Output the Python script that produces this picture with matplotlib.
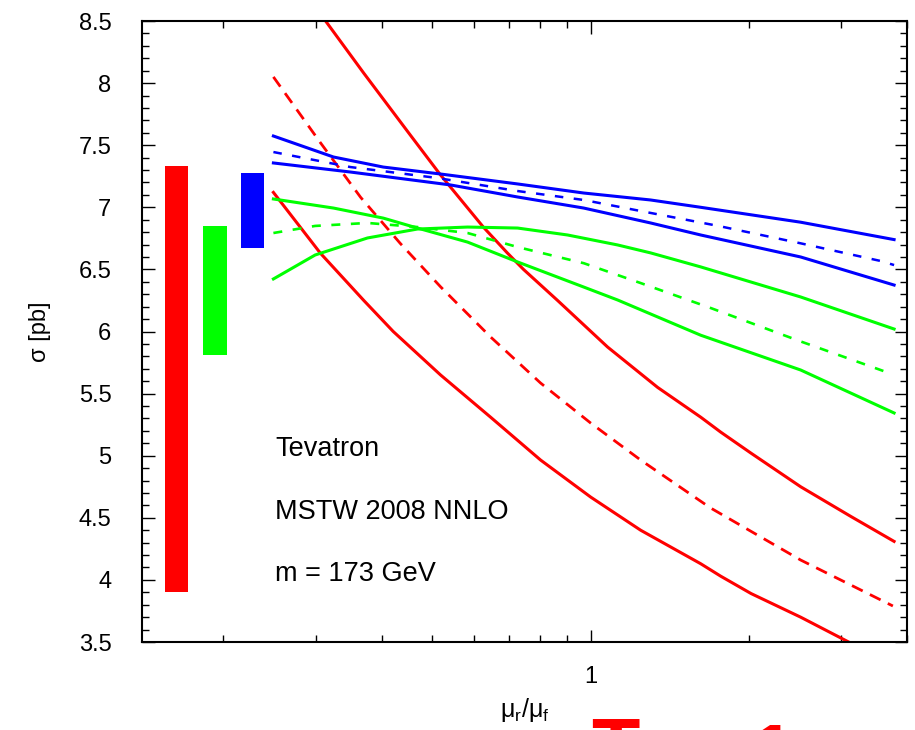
import numpy as np
import matplotlib
matplotlib.use('Agg')
import matplotlib.pyplot as plt
from matplotlib.ticker import FixedLocator, LogLocator, NullFormatter, MultipleLocator, FormatStrFormatter

plt.rcParams['font.family'] = ['Liberation Sans', 'DejaVu Sans']
plt.rcParams['mathtext.fontset'] = 'custom'
plt.rcParams['mathtext.rm'] = 'Liberation Sans'
plt.rcParams['mathtext.it'] = 'Liberation Sans'

RED = '#ff0000'
GREEN = '#00ff00'
BLUE = '#0000ff'

# uncertainty bands (left of the curves): x edges and sigma range
bar_left = [0.155, 0.183, 0.216]
bar_right = [0.171, 0.203, 0.239]
bar_low = [3.90, 5.81, 6.67]
bar_high = [7.33, 6.85, 7.28]
bar_colors = [RED, GREEN, BLUE]

# red curves
red_hi_x = [0.313, 0.37, 0.454, 0.518, 0.625, 0.695, 0.745, 0.865, 1.077, 1.341, 1.62, 1.768, 2.02, 2.51, 3.13, 3.78]
red_hi_y = [8.5, 8.08, 7.58, 7.26, 6.84, 6.63, 6.50, 6.25, 5.875, 5.55, 5.31, 5.19, 5.02, 4.75, 4.51, 4.31]
red_lo_x = [0.249, 0.306, 0.37, 0.421, 0.518, 0.645, 0.803, 1.0, 1.245, 1.62, 1.768, 2.02, 2.51, 3.13]
red_lo_y = [7.12, 6.63, 6.25, 6.00, 5.65, 5.31, 4.965, 4.667, 4.40, 4.13, 4.03, 3.89, 3.70, 3.49]
red_mid_x = [0.249, 0.306, 0.365, 0.434, 0.518, 0.645, 0.803, 1.0, 1.245, 1.69, 2.51, 3.76]
red_mid_y = [8.05, 7.52, 7.08, 6.71, 6.36, 5.956, 5.585, 5.263, 4.965, 4.58, 4.16, 3.79]

# blue curves
blue_hi_x = [0.249, 0.324, 0.403, 0.518, 0.726, 0.97, 1.30, 1.62, 2.51, 3.78]
blue_hi_y = [7.574, 7.405, 7.324, 7.268, 7.188, 7.115, 7.059, 7.00, 6.88, 6.74]
blue_lo_x = [0.249, 0.349, 0.541, 0.726, 0.97, 1.30, 1.62, 2.51, 3.78]
blue_lo_y = [7.357, 7.284, 7.18, 7.083, 6.994, 6.874, 6.777, 6.60, 6.374]
blue_mid_x = [0.249, 0.349, 0.511, 0.726, 0.97, 1.245, 1.75, 2.51, 3.57, 3.78]
blue_mid_y = [7.445, 7.324, 7.236, 7.131, 7.059, 6.97, 6.85, 6.71, 6.567, 6.535]

# green curves
green_a_x = [0.249, 0.324, 0.403, 0.468, 0.583, 0.726, 0.97, 1.125, 1.62, 2.51, 3.78]
green_a_y = [7.067, 6.994, 6.913, 6.833, 6.72, 6.56, 6.358, 6.254, 5.97, 5.69, 5.344]
green_b_x = [0.249, 0.299, 0.376, 0.468, 0.583, 0.726, 0.904, 1.125, 1.30, 1.62, 2.51, 3.78]
green_b_y = [6.423, 6.616, 6.753, 6.825, 6.841, 6.833, 6.777, 6.697, 6.633, 6.52, 6.278, 6.02]
green_mid_x = [0.249, 0.299, 0.376, 0.468, 0.583, 0.726, 0.97, 1.245, 1.69, 2.51, 3.73]
green_mid_y = [6.793, 6.85, 6.874, 6.841, 6.793, 6.68, 6.55, 6.39, 6.19, 5.92, 5.66]

labels = ['Tevatron', 'MSTW 2008 NNLO', 'm = 173 GeV']


def main():
    fig = plt.figure(figsize=(9.15, 7.3), dpi=100)
    ax = fig.add_axes([142 / 915, 1 - 642 / 730, 765 / 915, 621 / 730])

    for l, r, lo, hi, c in zip(bar_left, bar_right, bar_low, bar_high, bar_colors):
        ax.bar(l, hi - lo, width=r - l, bottom=lo, align='edge', color=c, linewidth=0)

    lw = 2.2
    ax.plot(red_hi_x, red_hi_y, color=RED, lw=lw)
    ax.plot(red_lo_x, red_lo_y, color=RED, lw=lw)
    ax.plot(red_mid_x, red_mid_y, color=RED, lw=2.0, dashes=(4.3, 2.9))

    ax.plot(green_a_x, green_a_y, color=GREEN, lw=lw)
    ax.plot(green_b_x, green_b_y, color=GREEN, lw=lw)
    ax.plot(green_mid_x, green_mid_y, color=GREEN, lw=1.9, dashes=(3.4, 4.0))

    ax.plot(blue_hi_x, blue_hi_y, color=BLUE, lw=lw)
    ax.plot(blue_lo_x, blue_lo_y, color=BLUE, lw=lw)
    ax.plot(blue_mid_x, blue_mid_y, color=BLUE, lw=1.8, dashes=(3.4, 4.2))

    ax.set_xscale('log')
    ax.set_xlim(0.14, 4.0)
    ax.set_ylim(3.5, 8.5)

    ax.xaxis.set_major_locator(FixedLocator([1.0]))
    ax.xaxis.set_major_formatter(FormatStrFormatter('%g'))
    ax.xaxis.set_minor_locator(LogLocator(base=10, subs=np.arange(2, 10)))
    ax.xaxis.set_minor_formatter(NullFormatter())
    ax.yaxis.set_major_locator(MultipleLocator(0.5))
    ax.yaxis.set_minor_locator(MultipleLocator(0.1))
    ax.yaxis.set_major_formatter(FormatStrFormatter('%g'))

    ax.tick_params(which='both', direction='in', top=True, right=True, width=1.0)
    ax.tick_params(which='major', length=9, labelsize=17)
    ax.tick_params(axis='y', which='major', pad=22)
    ax.tick_params(axis='x', which='major', pad=17)
    ax.tick_params(which='minor', length=4.7)
    for s in ax.spines.values():
        s.set_linewidth(1.5)

    ax.set_xlabel(r'$\mathregular{\mu_r/\mu_f}$', fontsize=18, labelpad=6)
    ax.set_ylabel('σ [pb]', fontsize=17, labelpad=20)

    for i, t in enumerate(labels):
        ax.text(0.174, 0.2995 - i * 0.1008, t, transform=ax.transAxes,
                fontsize=19.5, va='baseline', ha='left')

    # cropped red text peeking in at the bottom edge
    fig.text(591 / 915, -44 / 730, 'T', color=RED, fontsize=57, fontweight='bold',
             va='baseline', ha='left')
    fig.text(751 / 915, -50 / 730, '1', color=RED, fontsize=57, fontweight='bold',
             va='baseline', ha='left')

    fig.savefig('out.png', dpi=100)


if __name__ == '__main__':
    main()
